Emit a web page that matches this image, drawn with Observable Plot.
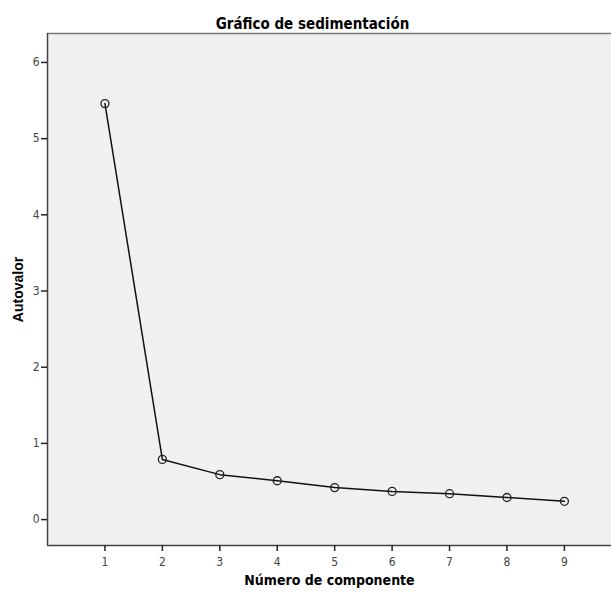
<!DOCTYPE html>
<html>
<head>
<meta charset="utf-8">
<script src="https://cdn.jsdelivr.net/npm/d3@7"></script>
<script src="https://cdn.jsdelivr.net/npm/@observablehq/plot@0.6"></script>
<style>
  html, body { margin: 0; padding: 0; background: #fff; }
  svg { display: block; }
</style>
</head>
<body>
<div id="chart"></div>
<script>
const components = [1, 2, 3, 4, 5, 6, 7, 8, 9];
const eigenvalues = [5.46, 0.79, 0.59, 0.51, 0.42, 0.37, 0.34, 0.29, 0.24];
const xTicks = [1, 2, 3, 4, 5, 6, 7, 8, 9];
const yTicks = [0, 1, 2, 3, 4, 5, 6];
const title = "Gráfico de sedimentación";
const xLabel = "Número de componente";
const yLabel = "Autovalor";

const data = components.map((c, i) => ({ c, v: eigenvalues[i] }));
const condensed = "'DejaVu Sans Condensed', 'Liberation Sans Narrow', 'Liberation Sans', Arial, sans-serif";

const chart = Plot.plot({
  width: 611,
  height: 599,
  marginTop: 33,
  marginBottom: 54,
  marginLeft: 47,
  marginRight: 0,
  style: { fontFamily: condensed, fontSize: "12px", color: "#333" },
  x: { domain: [0, 9.82], label: null, axis: null },
  y: { domain: [-0.34, 6.38], label: null, axis: null },
  marks: [
    Plot.frame({ fill: "#f0f0f0", stroke: null }),
    Plot.ruleY([-0.34], { stroke: "#444", strokeWidth: 1.5 }),
    Plot.ruleY([6.38], { stroke: "#777", strokeWidth: 1.5 }),
    Plot.ruleX([0], { stroke: "#444", strokeWidth: 1.5 }),
    Plot.axisX({ ticks: xTicks, tickFormat: d => String(d), tickSize: 6, tickPadding: 6, stroke: "#222", strokeWidth: 1.5, fill: "#444", fontSize: 12, fontFamily: condensed }),
    Plot.axisY({ ticks: yTicks, tickFormat: d => String(d), tickSize: 6, tickPadding: 2, stroke: "#222", strokeWidth: 1.5, fill: "#444", fontSize: 12, fontFamily: condensed }),
    Plot.line(data, { x: "c", y: "v", stroke: "#111", strokeWidth: 1.5 }),
    Plot.dot(data, { x: "c", y: "v", r: 4, stroke: "#222", strokeWidth: 1.3, fill: "none" }),
    Plot.text([title], { frameAnchor: "top", textAnchor: "middle", dx: -17, dy: -15, text: d => d, fontSize: 15, fontWeight: "bold", fill: "#000", fontFamily: condensed }),
    Plot.text([xLabel], { frameAnchor: "bottom", textAnchor: "middle", dy: 39, text: d => d, fontSize: 14, fontWeight: "bold", fill: "#000", fontFamily: condensed }),
    Plot.text([yLabel], { frameAnchor: "left", textAnchor: "middle", dx: -29, rotate: -90, text: d => d, fontSize: 14, fontWeight: "bold", fill: "#000", fontFamily: "'Liberation Sans', Arial, sans-serif" })
  ]
});
document.getElementById("chart").appendChild(chart);
</script>
</body>
</html>
